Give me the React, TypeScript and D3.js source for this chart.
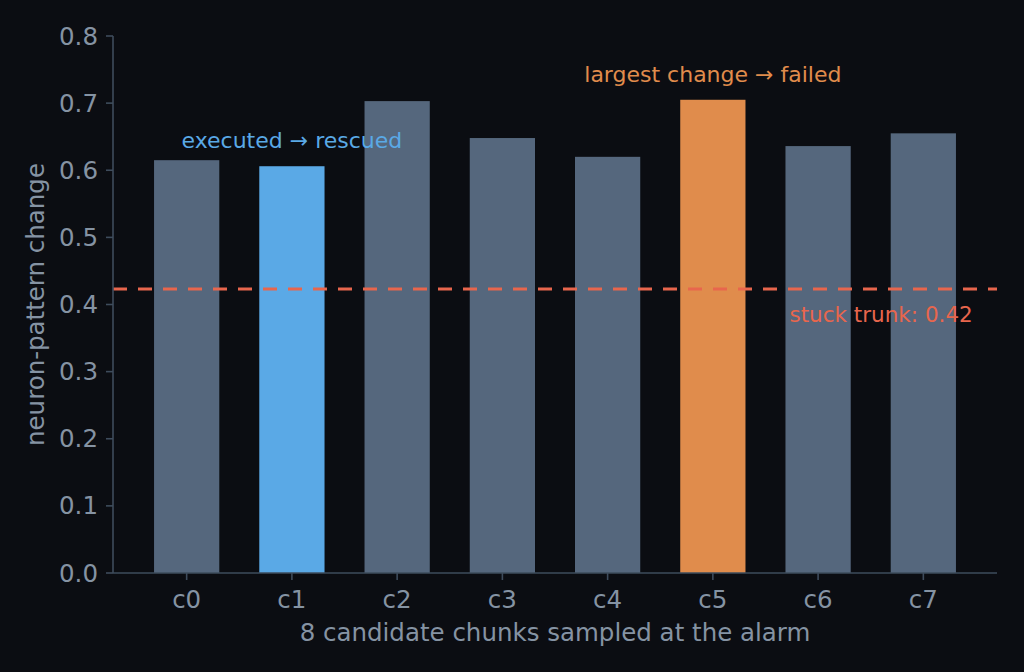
import React from 'react';
import * as d3 from 'd3';

const chunks = ['c0', 'c1', 'c2', 'c3', 'c4', 'c5', 'c6', 'c7'];
const change = [0.615, 0.606, 0.703, 0.648, 0.62, 0.705, 0.636, 0.655];
const yTicks = [0, 0.1, 0.2, 0.3, 0.4, 0.5, 0.6, 0.7, 0.8];
const stuckTrunk = 0.423;
const rescuedIdx = 1;
const failedIdx = 5;

const W = 1024;
const H = 672;
const margin = { top: 36, right: 27, bottom: 99, left: 113 };
const font = "'DejaVu Sans', sans-serif";

const C = {
  bg: '#0b0d12',
  axis: '#3e4c5c',
  text: '#8593a3',
  bar: '#55677d',
  blue: '#5aa9e6',
  orange: '#e08c4c',
  red: '#e8664d',
};

const App: React.FC = () => {
  const x = d3
    .scaleLinear()
    .domain([-0.7, chunks.length - 0.3])
    .range([margin.left, W - margin.right]);
  const y = d3
    .scaleLinear()
    .domain([0, 0.8])
    .range([H - margin.bottom, margin.top]);
  const bw = x(0.62) - x(0);
  const y0 = y(0);

  const barColor = (i: number) =>
    i === rescuedIdx ? C.blue : i === failedIdx ? C.orange : C.bar;

  return (
    <svg
      width={W}
      height={H}
      style={{ position: 'absolute', left: 0, top: 0, background: C.bg }}
      fontFamily={font}
    >
      <rect width={W} height={H} fill={C.bg} />

      {/* bars */}
      {change.map((v, i) => (
        <rect
          key={chunks[i]}
          x={x(i) - bw / 2}
          y={y(v)}
          width={bw}
          height={y0 - y(v)}
          fill={barColor(i)}
        />
      ))}

      {/* threshold */}
      <line
        x1={x(-0.7)}
        x2={x(chunks.length - 0.3)}
        y1={y(stuckTrunk)}
        y2={y(stuckTrunk)}
        stroke={C.red}
        strokeWidth={3}
        strokeDasharray="14 11"
      />
      <text
        x={x(7.47)}
        y={y(stuckTrunk) + 33}
        fill={C.red}
        fontSize={21.5}
        textAnchor="end"
      >
        stuck trunk: 0.42
      </text>

      {/* annotations */}
      <text
        x={x(rescuedIdx)}
        y={y(change[rescuedIdx]) - 18}
        fill={C.blue}
        fontSize={22}
        textAnchor="middle"
      >
        executed → rescued
      </text>
      <text
        x={x(failedIdx)}
        y={y(change[failedIdx]) - 18}
        fill={C.orange}
        fontSize={22}
        textAnchor="middle"
      >
        largest change → failed
      </text>

      {/* y axis */}
      <line x1={margin.left} x2={margin.left} y1={y(0.8)} y2={y0} stroke={C.axis} strokeWidth={1.6} />
      {yTicks.map((t) => (
        <g key={t}>
          <line x1={margin.left - 7} x2={margin.left} y1={y(t)} y2={y(t)} stroke={C.axis} strokeWidth={1.6} />
          <text
            x={margin.left - 15}
            y={y(t)}
            dy="0.35em"
            fill={C.text}
            fontSize={24.5}
            textAnchor="end"
          >
            {t.toFixed(1)}
          </text>
        </g>
      ))}

      {/* x axis */}
      <line x1={x(-0.7)} x2={x(chunks.length - 0.3)} y1={y0} y2={y0} stroke={C.axis} strokeWidth={1.6} />
      {chunks.map((c, i) => (
        <g key={c}>
          <line x1={x(i)} x2={x(i)} y1={y0} y2={y0 + 7} stroke={C.axis} strokeWidth={1.6} />
          <text x={x(i)} y={y0 + 35} fill={C.text} fontSize={24.5} textAnchor="middle">
            {c}
          </text>
        </g>
      ))}

      <text
        x={(x(-0.7) + x(chunks.length - 0.3)) / 2}
        y={y0 + 68}
        fill={C.text}
        fontSize={24.5}
        textAnchor="middle"
      >
        8 candidate chunks sampled at the alarm
      </text>
      <text
        transform={`translate(44, ${(y(0.8) + y0) / 2}) rotate(-90)`}
        fill={C.text}
        fontSize={24.5}
        textAnchor="middle"
      >
        neuron-pattern change
      </text>
    </svg>
  );
};

export default App;
